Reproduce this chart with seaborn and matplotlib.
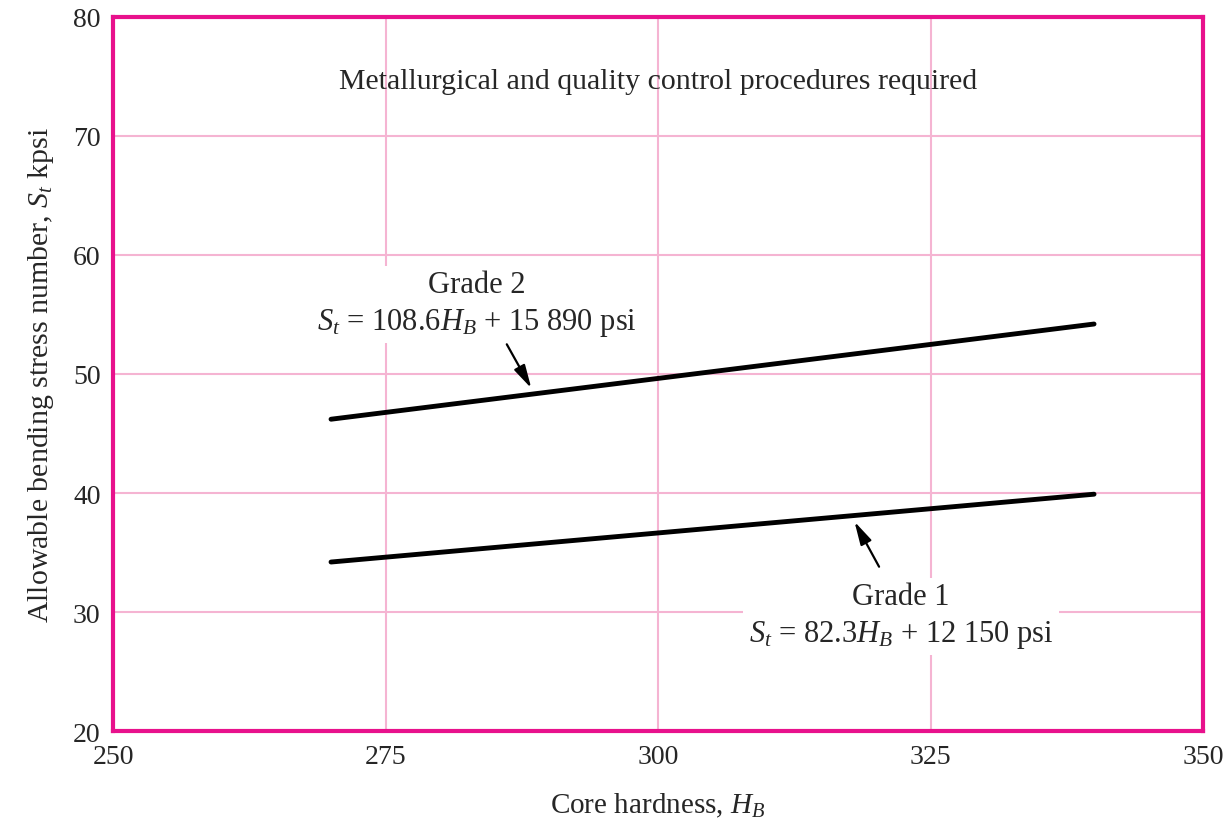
import numpy as np
import matplotlib
matplotlib.use("Agg")
import matplotlib.pyplot as plt
import pandas as pd
import seaborn as sns

# values (kpsi vs Brinell hardness)
hardness = [270, 340]
grade1_st = [34.2, 39.9]
grade2_st = [46.2, 54.2]

xticks = [250, 275, 300, 325, 350]
yticks = [20, 30, 40, 50, 60, 70, 80]

df = pd.DataFrame({
    'hardness': hardness + hardness,
    'st': grade1_st + grade2_st,
    'grade': ['Grade 1'] * len(hardness) + ['Grade 2'] * len(hardness),
})

sns.set_style("white")
plt.rcParams['font.family'] = ['Liberation Serif', 'DejaVu Serif']
plt.rcParams['mathtext.fontset'] = 'custom'
plt.rcParams['mathtext.rm'] = 'Liberation Serif'
plt.rcParams['mathtext.it'] = 'Liberation Serif:italic'

magenta = '#e8118c'
pink = '#f5b4d2'

fig = plt.figure(figsize=(12.31, 8.29), dpi=100)
ax = fig.add_axes([0.0918, 0.117, 0.8855, 0.8613])

sns.lineplot(data=df, x='hardness', y='st', hue='grade',
             palette={'Grade 1': 'black', 'Grade 2': 'black'},
             linewidth=3.5, legend=False, ax=ax, zorder=3)

ax.set_xlim(250, 350)
ax.set_ylim(20, 80)
ax.set_xticks(xticks)
ax.set_yticks(yticks)
ax.grid(True, color=pink, linewidth=1.5)
ax.set_axisbelow(True)
for s in ax.spines.values():
    s.set_color(magenta)
    s.set_linewidth(3)
ax.tick_params(length=0, labelsize=20, pad=9)

ax.set_xlabel('Core hardness, $H_B$', fontsize=21, labelpad=16)
ax.set_ylabel('Allowable bending stress number, $S_t$ kpsi', fontsize=21.5, labelpad=12)

ax.text(300, 74.6, 'Metallurgical and quality control procedures required',
        ha='center', va='center', fontsize=21.5)

box = dict(facecolor='white', edgecolor='none', pad=4)
ax.text(283.4, 55.9, 'Grade 2\n$S_t$ = 108.6$H_B$ + 15 890 psi',
        ha='center', va='center', fontsize=22, linespacing=1.3, bbox=box, zorder=2)
ax.text(322.3, 29.7, 'Grade 1\n$S_t$ = 82.3$H_B$ + 12 150 psi',
        ha='center', va='center', fontsize=22, linespacing=1.3, bbox=box, zorder=2)

arrow = dict(arrowstyle='-|>,head_length=0.7,head_width=0.18', color='black',
             lw=1.6, mutation_scale=20)
ax.annotate('', xy=(288.5, 48.6), xytext=(286.0, 52.7), arrowprops=arrow, zorder=4)
ax.annotate('', xy=(317.9, 37.8), xytext=(320.4, 33.6), arrowprops=arrow, zorder=4)

fig.savefig('out.png', dpi=100)
